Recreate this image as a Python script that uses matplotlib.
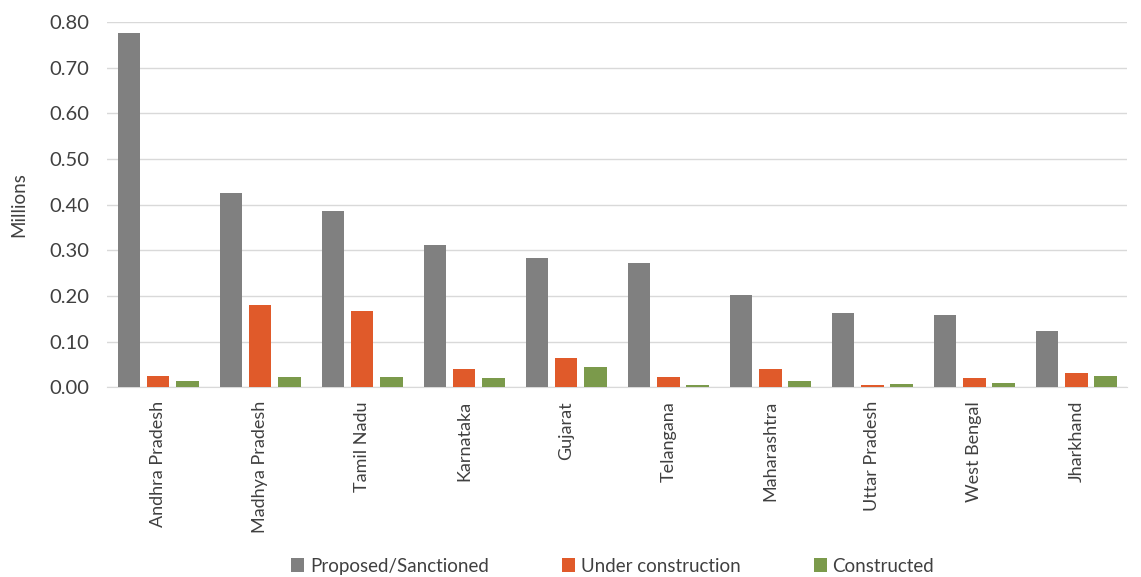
import numpy as np
import matplotlib.pyplot as plt

plt.rcParams['font.family'] = ['Lato', 'DejaVu Sans']

etats = ["Andhra Pradesh", "Madhya Pradesh", "Tamil Nadu", "Karnataka", "Gujarat",
         "Telangana", "Maharashtra", "Uttar Pradesh", "West Bengal", "Jharkhand"]
proposes = [0.776, 0.425, 0.386, 0.311, 0.283, 0.272, 0.201, 0.163, 0.157, 0.122]
en_construction = [0.025, 0.181, 0.166, 0.039, 0.063, 0.022, 0.039, 0.004, 0.019, 0.031]
construits = [0.013, 0.022, 0.022, 0.019, 0.045, 0.004, 0.013, 0.008, 0.010, 0.025]

fig = plt.figure(figsize=(11.41, 5.77), dpi=100)
ax = fig.add_axes([0.094, 0.329, 0.894, 0.633])

x = np.arange(len(etats))
w = 0.22
d = 0.285
ax.bar(x - d, proposes, w, color='#808080', label='Proposed/Sanctioned', zorder=3)
ax.bar(x, en_construction, w, color='#E05A2A', label='Under construction', zorder=3)
ax.bar(x + d, construits, w, color='#7B9A4B', label='Constructed', zorder=3)

ax.set_xlim(-0.5, len(etats) - 0.5)
ax.set_ylim(0, 0.8)
ax.set_yticks(np.arange(0, 0.81, 0.1))
ax.set_yticklabels([f"{v:.2f}" for v in np.arange(0, 0.81, 0.1)])
ax.set_xticks(x)
ax.set_xticklabels(etats, rotation=90)
ax.tick_params(axis='both', length=0, colors='#404040')
ax.tick_params(axis='y', pad=13, labelsize=14.5)
ax.tick_params(axis='x', pad=10, labelsize=13)
ax.yaxis.grid(True, color='#d9d9d9', lw=1)
for s in ['top', 'right', 'left']:
    ax.spines[s].set_visible(False)
ax.spines['bottom'].set_color('#d9d9d9')
ax.set_ylabel("Millions", fontsize=13.5, color='#404040', labelpad=16)

fig.legend(loc='lower center', ncol=3, frameon=False, fontsize=13.5,
           bbox_to_anchor=(0.537, -0.025), handlelength=0.7, handleheight=0.7,
           columnspacing=3.9, handletextpad=0.3, labelcolor='#404040')

fig.savefig("out.png", dpi=100)
